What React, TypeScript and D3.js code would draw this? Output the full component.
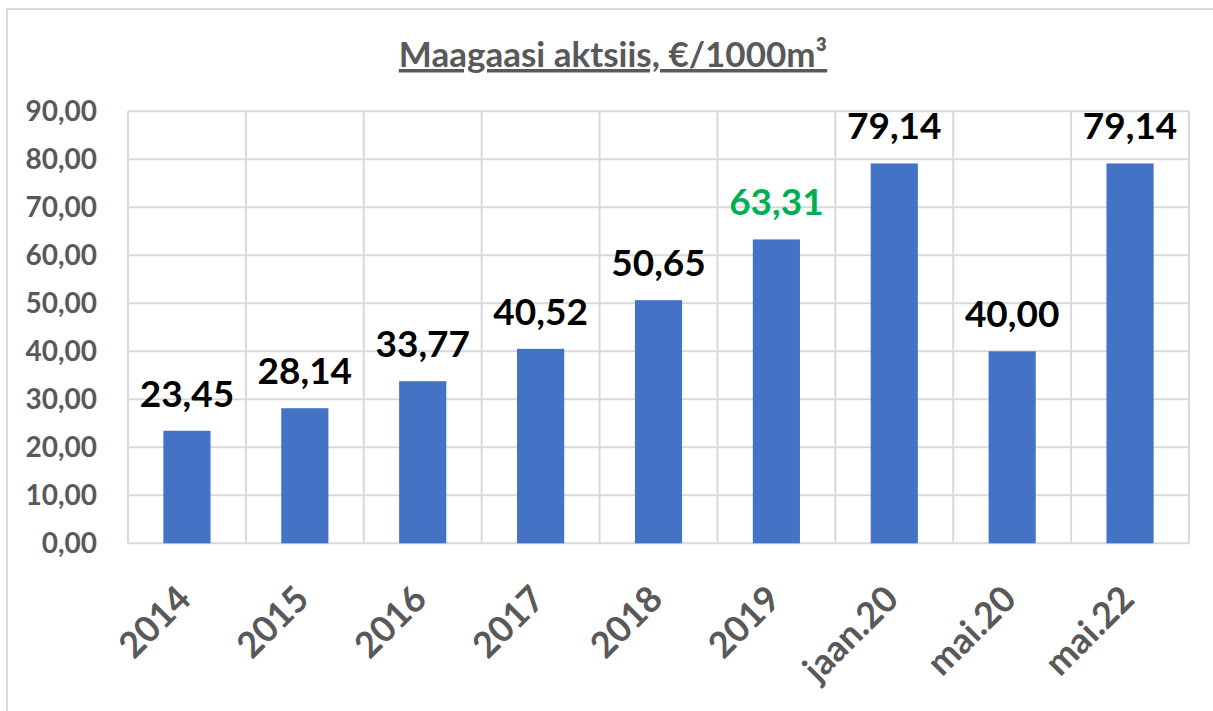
import React from "react";
import * as d3 from "d3";

const categories = ["2014", "2015", "2016", "2017", "2018", "2019", "jaan.20", "mai.20", "mai.22"];
const values = [23.45, 28.14, 33.77, 40.52, 50.65, 63.31, 79.14, 40.0, 79.14];
const labelColors = ["#000", "#000", "#000", "#000", "#000", "#00b050", "#000", "#000", "#000"];
const yTicks = [0, 10, 20, 30, 40, 50, 60, 70, 80, 90];
const title = "Maagaasi aktsiis, €/1000m³";

const W = 1213;
const H = 711;
const left = 128;
const right = 1189;
const top = 111.3;
const bottom = 543.3;
const font = "Lato, 'Open Sans', sans-serif";
const grid = "#d9d9d9";
const gray = "#595959";

export default function App() {
  const x = d3.scaleBand<string>().domain(categories).range([left, right]).paddingInner(0).paddingOuter(0);
  const y = d3.scaleLinear().domain([0, 90]).range([bottom, top]);
  const bw = x.bandwidth() * 0.4;
  const fmt = (v: number) => v.toFixed(2).replace(".", ",");

  return (
    <svg width={W} height={H} style={{ position: "absolute", left: 0, top: 0 }} fontFamily={font}>
      <rect x={0} y={0} width={W} height={H} fill="#fff" />
      <rect x={7} y={9} width={W + 20} height={H + 20} fill="none" stroke={grid} strokeWidth={2} />
      <text
        x={613}
        y={67}
        textAnchor="middle"
        fontSize={35}
        fontWeight="bold"
        fill={gray}
        textDecoration="underline"
      >
        {title}
      </text>
      {yTicks.map((t) => (
        <g key={t}>
          <line x1={left} x2={right} y1={y(t)} y2={y(t)} stroke={grid} strokeWidth={2} />
          <text x={97} y={y(t)} dy="0.36em" textAnchor="end" fontSize={28} fontWeight="bold" fill={gray}>
            {fmt(t)}
          </text>
        </g>
      ))}
      {categories.concat(["__end"]).map((c, i) => {
        const xx = i < categories.length ? (x(c) as number) : right;
        return <line key={"v" + i} x1={xx} x2={xx} y1={top} y2={bottom} stroke={grid} strokeWidth={2} />;
      })}
      {categories.map((c, i) => {
        const cx = (x(c) as number) + x.bandwidth() / 2;
        return (
          <g key={c}>
            <rect x={cx - bw / 2} y={y(values[i])} width={bw} height={bottom - y(values[i])} fill="#4472c4" />
            <text
              x={cx}
              y={y(values[i]) - 24}
              textAnchor="middle"
              fontSize={37}
              fontWeight="bold"
              fill={labelColors[i]}
            >
              {fmt(values[i])}
            </text>
            <text
              transform={`translate(${cx - 3},${592}) rotate(-45)`}
              textAnchor="end"
              dy="0.36em"
              fontSize={36}
              fontWeight="bold"
              fill={gray}
            >
              {c}
            </text>
          </g>
        );
      })}
    </svg>
  );
}
